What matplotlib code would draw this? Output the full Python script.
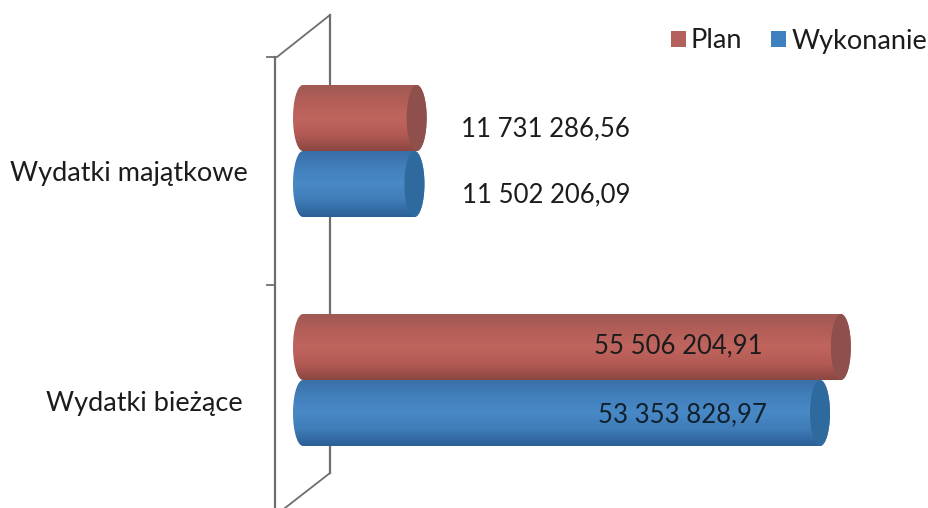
import numpy as np
import matplotlib
matplotlib.use("Agg")
import matplotlib.pyplot as plt
from matplotlib.colors import LinearSegmentedColormap
from matplotlib.patches import Ellipse, Patch, PathPatch
from matplotlib.path import Path
from matplotlib.transforms import Affine2D

# data
categories = ["Wydatki majątkowe", "Wydatki bieżące"]
series_names = ["Plan", "Wykonanie"]
plan = [11731286.56, 55506204.91]
wykonanie = [11502206.09, 53353828.97]
plan_labels = ["11 731 286,56", "55 506 204,91"]
wykonanie_labels = ["11 502 206,09", "53 353 828,97"]

# colours, edge of the cylinder to the middle and back
plan_shades = ["#a05a54", "#b45e58", "#c0655e", "#b45a54", "#8c4742"]
plan_cap = "#8f504d"
plan_legend = "#b4605c"
wykonanie_shades = ["#3a6ea6", "#4280bc", "#4989c6", "#3f7cb8", "#2c5f96"]
wykonanie_cap = "#2f6a9e"
wykonanie_legend = "#3f80c0"

W, H = 929, 508
PX_PER_VALUE = 9.69e-6
ZERO_PX = 303
CAP_PX = 10
ROW_PX = 229
FIRST_ROW_PX = 151
BAR_PX = 66

plt.rcParams["font.family"] = ["Lato", "DejaVu Sans"]
fig = plt.figure(figsize=(W / 100, H / 100), dpi=100)
ax = fig.add_axes([0, 0, 1, 1])
ax.axis("off")

# pixel coordinates for the 3d wall, which is not data
px = Affine2D().scale(1, -1).translate(0, H)
wall = "#6e6e6e"
ax.plot([330, 330], [15, 473], color=wall, lw=1.6, transform=px, zorder=1)
ax.plot([275, 275], [57, 508], color=wall, lw=1.6, transform=px, zorder=1)
ax.plot([267, 277, 330], [57, 57, 15], color=wall, lw=1.3, transform=px, zorder=1)
ax.plot([285, 330], [508, 473], color=wall, lw=1.3, transform=px, zorder=1)
ax.plot([267, 275], [285, 285], color=wall, lw=1.3, transform=px, zorder=1)

cap_w = CAP_PX / PX_PER_VALUE
bar_h = BAR_PX / ROW_PX


def cylinder(value, y, shades, cap, z):
    # body: half ellipse on the left, half ellipse on the right
    t = np.linspace(np.pi / 2, 3 * np.pi / 2, 40)
    left = np.column_stack([cap_w * np.cos(t), y - bar_h / 2 * np.sin(t)])
    right = np.column_stack([value - cap_w * np.cos(t), y + bar_h / 2 * np.sin(t)])
    pts = np.vstack([left, right, left[:1]])
    body = PathPatch(Path(pts), fc="none", ec="none", zorder=z)
    ax.add_patch(body)
    cmap = LinearSegmentedColormap.from_list("c", shades)
    img = ax.imshow(np.linspace(0, 1, 100).reshape(-1, 1), cmap=cmap, aspect="auto",
                    extent=[-cap_w, value + cap_w, y + bar_h / 2, y - bar_h / 2],
                    origin="upper", zorder=z, interpolation="bilinear")
    img.set_clip_path(body)
    ax.add_patch(Ellipse((value, y), 2 * cap_w, bar_h, fc=cap, ec="none", zorder=z + 0.1))


for i in range(len(categories)):
    cylinder(plan[i], i - bar_h / 2, plan_shades, plan_cap, 2 + i)
    cylinder(wykonanie[i], i + bar_h / 2, wykonanie_shades, wykonanie_cap, 2.5 + i)

ax.set_xlim(-ZERO_PX / PX_PER_VALUE, (W - ZERO_PX) / PX_PER_VALUE)
ax.set_ylim((H - FIRST_ROW_PX) / ROW_PX, -FIRST_ROW_PX / ROW_PX)

# text, placed in pixels
text_c = "#1c1c1c"
fs = 19.5
fs_val = 18.5
ax.text(129, 174, categories[0], transform=px, ha="center", va="center", fontsize=fs, color=text_c)
ax.text(144, 403, categories[1], transform=px, ha="center", va="center", fontsize=fs, color=text_c)
ax.text(545, 129, plan_labels[0], transform=px, ha="center", va="center", fontsize=fs_val, color=text_c, zorder=10)
ax.text(546, 195, wykonanie_labels[0], transform=px, ha="center", va="center", fontsize=fs_val, color=text_c, zorder=10)
ax.text(678, 346, plan_labels[1], transform=px, ha="center", va="center", fontsize=fs_val, color=text_c, zorder=10)
ax.text(682, 415, wykonanie_labels[1], transform=px, ha="center", va="center", fontsize=fs_val, color="#10202c", zorder=10)

handles = [Patch(fc=plan_legend, ec="none"), Patch(fc=wykonanie_legend, ec="none")]
fig.legend(handles, series_names, ncol=2, frameon=False, fontsize=fs, labelcolor=text_c,
           loc="center right", bbox_to_anchor=(927 / W, 1 - 41 / H),
           handlelength=0.55, handleheight=0.55, handletextpad=0.18, columnspacing=1.09,
           borderpad=0, borderaxespad=0)

fig.savefig("out.png", dpi=100)
